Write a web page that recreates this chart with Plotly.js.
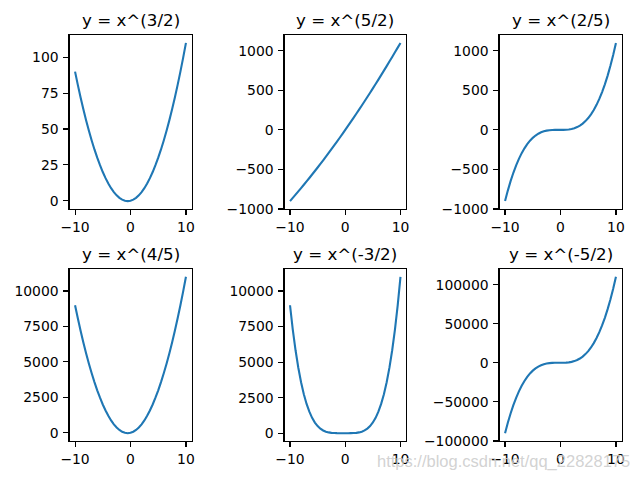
<!DOCTYPE html>
<html>
<head>
<meta charset="utf-8">
<script src="https://cdn.plot.ly/plotly-3.0.1.min.js"></script>
<style>html,body{margin:0;padding:0;background:#fff;}#chart{width:640px;height:480px;}</style>
</head>
<body>
<div id="chart"></div>
<script>
const xValues = [-10,-9.5,-9,-8.5,-8,-7.5,-7,-6.5,-6,-5.5,-5,-4.5,-4,-3.5,-3,-2.5,-2,-1.5,-1,-0.5,0,0.5,1,1.5,2,2.5,3,3.5,4,4.5,5,5.5,6,6.5,7,7.5,8,8.5,9,9.5,10];

const y1 = [90,80.75,72,63.75,56,48.75,42,35.75,30,24.75,20,15.75,12,8.75,6,3.75,2,0.75,0,-0.25,0,0.75,2,3.75,6,8.75,12,15.75,20,24.75,30,35.75,42,48.75,56,63.75,72,80.75,90,99.75,110];
const y2 = [-900,-859.75,-819,-777.75,-736,-693.75,-651,-607.75,-564,-519.75,-475,-429.75,-384,-337.75,-291,-243.75,-196,-147.75,-99,-49.75,0,50.25,101,152.25,204,256.25,309,362.25,416,470.25,525,580.25,636,692.25,749,806.25,864,922.25,981,1040.25,1100];
const y3 = [-900,-767.125,-648,-541.875,-448,-365.625,-294,-232.375,-180,-136.125,-100,-70.875,-48,-30.625,-18,-9.375,-4,-1.125,0,0.125,0,0.375,2,5.625,12,21.875,36,55.125,80,111.375,150,196.625,252,316.875,392,478.125,576,686.375,810,947.625,1100];
const y4 = [9000,8075,7200,6375,5600,4875,4200,3575,3000,2475,2000,1575,1200,875,600,375,200,75,0,-25,0,75,200,375,600,875,1200,1575,2000,2475,3000,3575,4200,4875,5600,6375,7200,8075,9000,9975,11000];
const y5 = [9000,7287.6875,5832,4605.9375,3584,2742.1875,2058,1510.4375,1080,748.6875,500,318.9375,192,107.1875,54,23.4375,8,1.6875,0,-0.0625,0,0.1875,2,8.4375,24,54.6875,108,192.9375,320,501.1875,750,1081.4375,1512,2059.6875,2744,3585.9375,4608,5834.1875,7290,9002.4375,11000];
const y6 = [-90000,-76712.5,-64800,-54187.5,-44800,-36562.5,-29400,-23237.5,-18000,-13612.5,-10000,-7087.5,-4800,-3062.5,-1800,-937.5,-400,-112.5,0,12.5,0,37.5,200,562.5,1200,2187.5,3600,5512.5,8000,11137.5,15000,19662.5,25200,31687.5,39200,47812.5,57600,68637.5,81000,94762.5,110000];

const titles = ["y = x^(3/2)","y = x^(5/2)","y = x^(2/5)","y = x^(4/5)","y = x^(-3/2)","y = x^(-5/2)"];
const xTicks = [-10,0,10];
const yTicks1 = [0,25,50,75,100];
const yTicks2 = [-1000,-500,0,500,1000];
const yTicks3 = [-1000,-500,0,500,1000];
const yTicks4 = [0,2500,5000,7500,10000];
const yTicks5 = [0,2500,5000,7500,10000];
const yTicks6 = [-100000,-50000,0,50000,100000];
const watermark = "https://blog.csdn.net/qq_22828175";

const ySeries = [y1,y2,y3,y4,y5,y6];
const yTickSets = [yTicks1,yTicks2,yTicks3,yTicks4,yTicks5,yTicks6];

const W = 640, H = 480;
const colsPx = [[69.5,191.5],[284.5,406],[499.5,621.5]];
const rowsPx = [[35,209],[269,441]];

function autoRange(arr){
  let mn = Math.min(...arr), mx = Math.max(...arr);
  const m = (mx - mn) * 0.05;
  return [mn - m, mx + m];
}
function labels(vals){ return vals.map(v => String(v).replace('-', '\u2212')); }

const traces = [];
const layout = {
  width: W, height: H,
  margin: {l:0,r:0,t:0,b:0},
  paper_bgcolor: '#fff', plot_bgcolor: '#fff',
  showlegend: false,
  font: {family: 'DejaVu Sans', size: 13.9, color: '#000'},
  annotations: []
};

for (let i = 0; i < 6; i++) {
  const r = Math.floor(i / 3), c = i % 3;
  const n = i + 1;
  const sfx = (n === 1 ? '' : String(n));
  traces.push({
    type: 'scatter', mode: 'lines',
    x: xValues, y: ySeries[i],
    xaxis: 'x' + sfx, yaxis: 'y' + sfx,
    line: {color: '#1f77b4', width: 2.1, simplify: false}
  });
  const xd = [colsPx[c][0] / W, colsPx[c][1] / W];
  const yd = [1 - rowsPx[r][1] / H, 1 - rowsPx[r][0] / H];
  const common = {
    showgrid: false, zeroline: false, showline: true, mirror: true,
    linecolor: '#000', linewidth: 1.1,
    ticks: 'outside', ticklen: 5, tickwidth: 1.1, tickcolor: '#000',
    tickfont: {family: 'DejaVu Sans', size: 13.9, color: '#000'},
    fixedrange: true
  };
  layout['xaxis' + sfx] = Object.assign({}, common, {
    domain: xd, range: autoRange(xValues),
    tickmode: 'array', tickvals: xTicks, ticktext: labels(xTicks),
    anchor: 'y' + sfx
  });
  layout['yaxis' + sfx] = Object.assign({}, common, {
    domain: yd, range: autoRange(ySeries[i]),
    tickmode: 'array', tickvals: yTickSets[i], ticktext: labels(yTickSets[i]),
    ticklabelstandoff: 2,
    anchor: 'x' + sfx
  });
  layout.annotations.push({
    text: titles[i], xref: 'paper', yref: 'paper',
    x: (xd[0] + xd[1]) / 2, y: yd[1] + 3 / H,
    xanchor: 'center', yanchor: 'bottom', showarrow: false,
    font: {family: 'DejaVu Sans', size: 16.7, color: '#000'}
  });
}

layout.annotations.push({
  text: watermark, xref: 'paper', yref: 'paper',
  x: 632 / W, y: 1 - 473 / H, xanchor: 'right', yanchor: 'bottom',
  showarrow: false,
  font: {family: 'Liberation Sans', size: 16.5, color: 'rgba(205,205,205,0.9)'}
});

Plotly.newPlot('chart', traces, layout, {staticPlot: true, displayModeBar: false});
</script>
</body>
</html>
